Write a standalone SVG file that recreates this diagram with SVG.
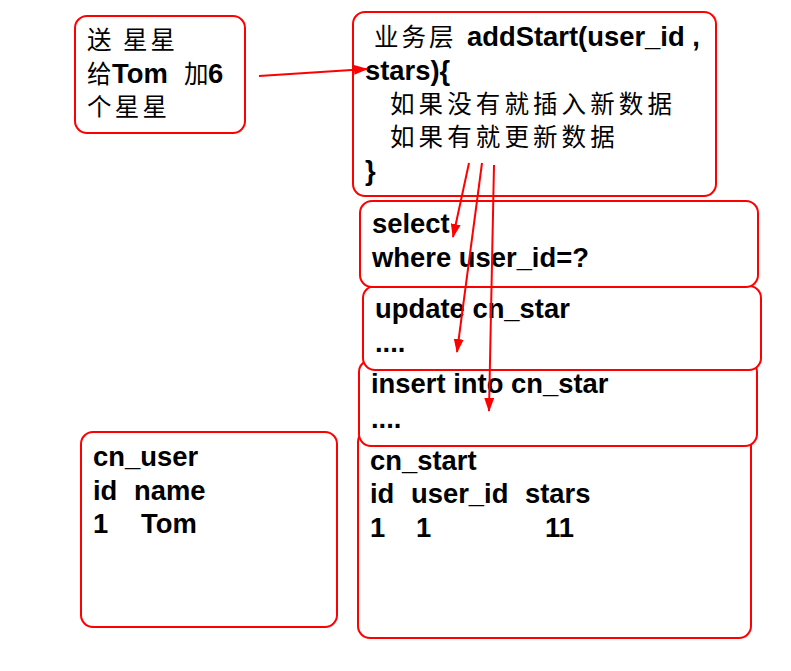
<svg xmlns="http://www.w3.org/2000/svg" width="791" height="671" viewBox="0 0 791 671">
<style>
.box{fill:#fff;stroke:#ff0000;stroke-width:2}
.en{font-family:"Liberation Sans",Arial,sans-serif;font-weight:bold;font-size:27.4px;fill:#000}
.cj{font-family:"Noto Sans CJK SC",sans-serif;font-weight:normal;font-size:24.5px;fill:#000}
.conn{stroke:#ff0000;stroke-width:2;fill:none}
</style>
<defs>
<marker id="ah" viewBox="0 0 14 10" refX="13" refY="5" markerWidth="14" markerHeight="10" markerUnits="userSpaceOnUse" orient="auto">
<path d="M0,0 L14,5 L0,10 Z" fill="#ff0000"/>
</marker>
</defs>
<rect width="791" height="671" fill="#fff"/>
<g id="send">
<rect class="box" x="75" y="16" width="170" height="117" rx="12"/>
<text class="cj" x="87" y="49" letter-spacing="3">送 星星</text>
<text y="83"><tspan class="cj" x="87">给</tspan><tspan class="en" x="112">Tom</tspan><tspan class="cj" x="184">加</tspan><tspan class="en" x="208">6</tspan></text>
<text class="cj" x="87" y="116" letter-spacing="3.2">个星星</text>
</g>
<g id="service">
<rect class="box" x="353" y="12" width="363" height="184" rx="12"/>
<text y="46"><tspan class="cj" x="374" letter-spacing="3">业务层</tspan><tspan class="en" x="467">addStart(user_id ,</tspan></text>
<text class="en" x="365" y="80">stars){</text>
<text class="cj" x="390" y="113" letter-spacing="4.1">如果没有就插入新数据</text>
<text class="cj" x="390" y="146" letter-spacing="4.1">如果有就更新数据</text>
<text class="en" x="365" y="180">}</text>
</g>
<g id="cn_start">
<rect class="box" x="358" y="430" width="393" height="208" rx="12"/>
<text class="en" x="370" y="470">cn_start</text>
<text class="en" y="503"><tspan x="370">id</tspan><tspan x="411">user_id</tspan><tspan x="525">stars</tspan></text>
<text class="en" y="537"><tspan x="370">1</tspan><tspan x="416">1</tspan><tspan x="545">11</tspan></text>
</g>
<g id="insert">
<rect class="box" x="359" y="360" width="398" height="86" rx="12"/>
<text class="en" x="371" y="393">insert into cn_star</text>
<text class="en" x="371" y="428">....</text>
</g>
<g id="update">
<rect class="box" x="363" y="286" width="398" height="84" rx="12"/>
<text class="en" x="375" y="318">update cn_star</text>
<text class="en" x="375" y="352">....</text>
</g>
<g id="select">
<rect class="box" x="360" y="201" width="398" height="86" rx="12"/>
<text class="en" x="372" y="233">select</text>
<text class="en" x="372" y="267">where user_id=?</text>
</g>
<g id="cn_user">
<rect class="box" x="81" y="432" width="256" height="195" rx="12"/>
<text class="en" x="93" y="466">cn_user</text>
<text class="en" y="500"><tspan x="93">id</tspan><tspan x="134">name</tspan></text>
<text class="en" y="533"><tspan x="93">1</tspan><tspan x="141">Tom</tspan></text>
</g>
<g id="connectors">
<line class="conn" x1="259" y1="76" x2="367" y2="69" marker-end="url(#ah)"/>
<line class="conn" x1="469" y1="163" x2="453" y2="237" marker-end="url(#ah)"/>
<line class="conn" x1="482" y1="163" x2="457" y2="352" marker-end="url(#ah)"/>
<line class="conn" x1="494" y1="165" x2="489" y2="411" marker-end="url(#ah)"/>
</g>
</svg>
